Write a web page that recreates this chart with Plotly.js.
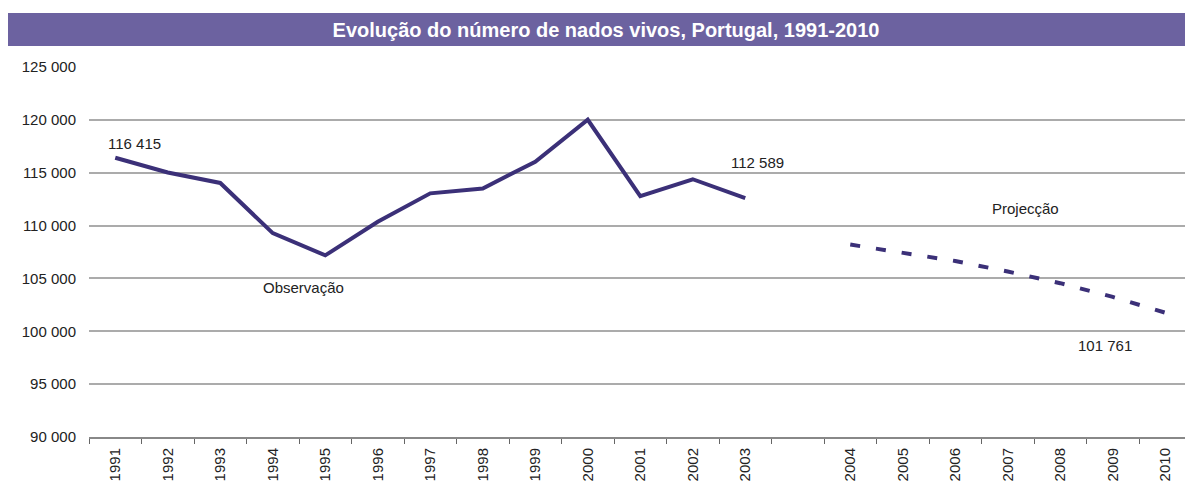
<!DOCTYPE html>
<html>
<head>
<meta charset="utf-8">
<script src="https://cdn.plot.ly/plotly-3.0.1.min.js"></script>
<style>html,body{margin:0;padding:0;background:#fff;}#chart{width:1185px;height:482px;}</style>
</head>
<body>
<div id="chart"></div>
<script>
const categories = ["1991","1992","1993","1994","1995","1996","1997","1998","1999","2000","2001","2002","2003"," ","2004","2005","2006","2007","2008","2009","2010"];
const obsYears = ["1991","1992","1993","1994","1995","1996","1997","1998","1999","2000","2001","2002","2003"];
const obsValues = [116415,115018,114030,109287,107184,110363,113047,113510,116038,120008,112774,114383,112589];
const projYears = ["2004","2005","2006","2007","2008","2009","2010"];
const projValues = [108200,107400,106650,105650,104550,103250,101761];
const tickLabels = ["1991","1992","1993","1994","1995","1996","1997","1998","1999","2000","2001","2002","2003","","2004","2005","2006","2007","2008","2009","2010"];
const titleText = "Evolução do número de nados vivos, Portugal, 1991-2010";

const lineColor = "#3B3078";
const font = "Liberation Sans, Arial, sans-serif";
const txt = {family: font, size: 15, color: "#222"};

const traces = [
  {x: obsYears, y: obsValues, type: "scatter", mode: "lines", line: {color: lineColor, width: 4}, hoverinfo: "skip"},
  {x: projYears, y: projValues, type: "scatter", mode: "lines", line: {color: lineColor, width: 4, dash: "10px,16px"}, hoverinfo: "skip"}
];

const layout = {
  width: 1185, height: 482,
  margin: {l: 89, r: 0, t: 67, b: 45},
  paper_bgcolor: "#fff", plot_bgcolor: "#fff",
  showlegend: false,
  separators: ", ",
  font: txt,
  title: {
    text: "<b>" + titleText + "</b>",
    font: {family: font, size: 20, color: "#fff"},
    xref: "container", yref: "container",
    x: 606/1185, xanchor: "center",
    y: 1 - 30/482, yanchor: "middle"
  },
  xaxis: {
    type: "category",
    categoryorder: "array", categoryarray: categories,
    tickvals: categories, ticktext: tickLabels,
    range: [-0.5, -0.5 + 1096/52.5],
    tickangle: -90,
    tickson: "boundaries",
    ticks: "outside", ticklen: 5, tickwidth: 1, tickcolor: "#666",
    ticklabelstandoff: 3,
    showgrid: false, zeroline: false,
    showline: true, linecolor: "#888", linewidth: 2,
    tickfont: txt,
    fixedrange: true
  },
  yaxis: {
    range: [90000, 125000], dtick: 5000, tick0: 90000,
    tickformat: ",d",
    showgrid: true, gridcolor: "#ABABAB", gridwidth: 2,
    zeroline: false, showline: false,
    ticks: "", ticklabelstandoff: 12,
    tickfont: txt,
    fixedrange: true
  },
  shapes: [
    {type: "rect", xref: "paper", yref: "paper", layer: "below",
     x0: (8-89)/1096, x1: 1.01, y0: (437-46)/370, y1: (437-13)/370,
     fillcolor: "#6C62A0", line: {width: 0}}
  ],
  annotations: [
    {x: 0.36, y: 117810, xref: "x", yref: "y", text: "116 415", showarrow: false, font: txt},
    {x: 12.23, y: 116013, xref: "x", yref: "y", text: "112 589", showarrow: false, font: txt},
    {x: 3.58, y: 104188, xref: "x", yref: "y", text: "Observação", showarrow: false, font: txt},
    {x: 17.33, y: 111662, xref: "x", yref: "y", text: "Projecção", showarrow: false, font: txt},
    {x: 18.86, y: 98700, xref: "x", yref: "y", text: "101 761", showarrow: false, font: txt}
  ]
};

Plotly.newPlot("chart", traces, layout, {displayModeBar: false, staticPlot: true});
</script>
</body>
</html>
